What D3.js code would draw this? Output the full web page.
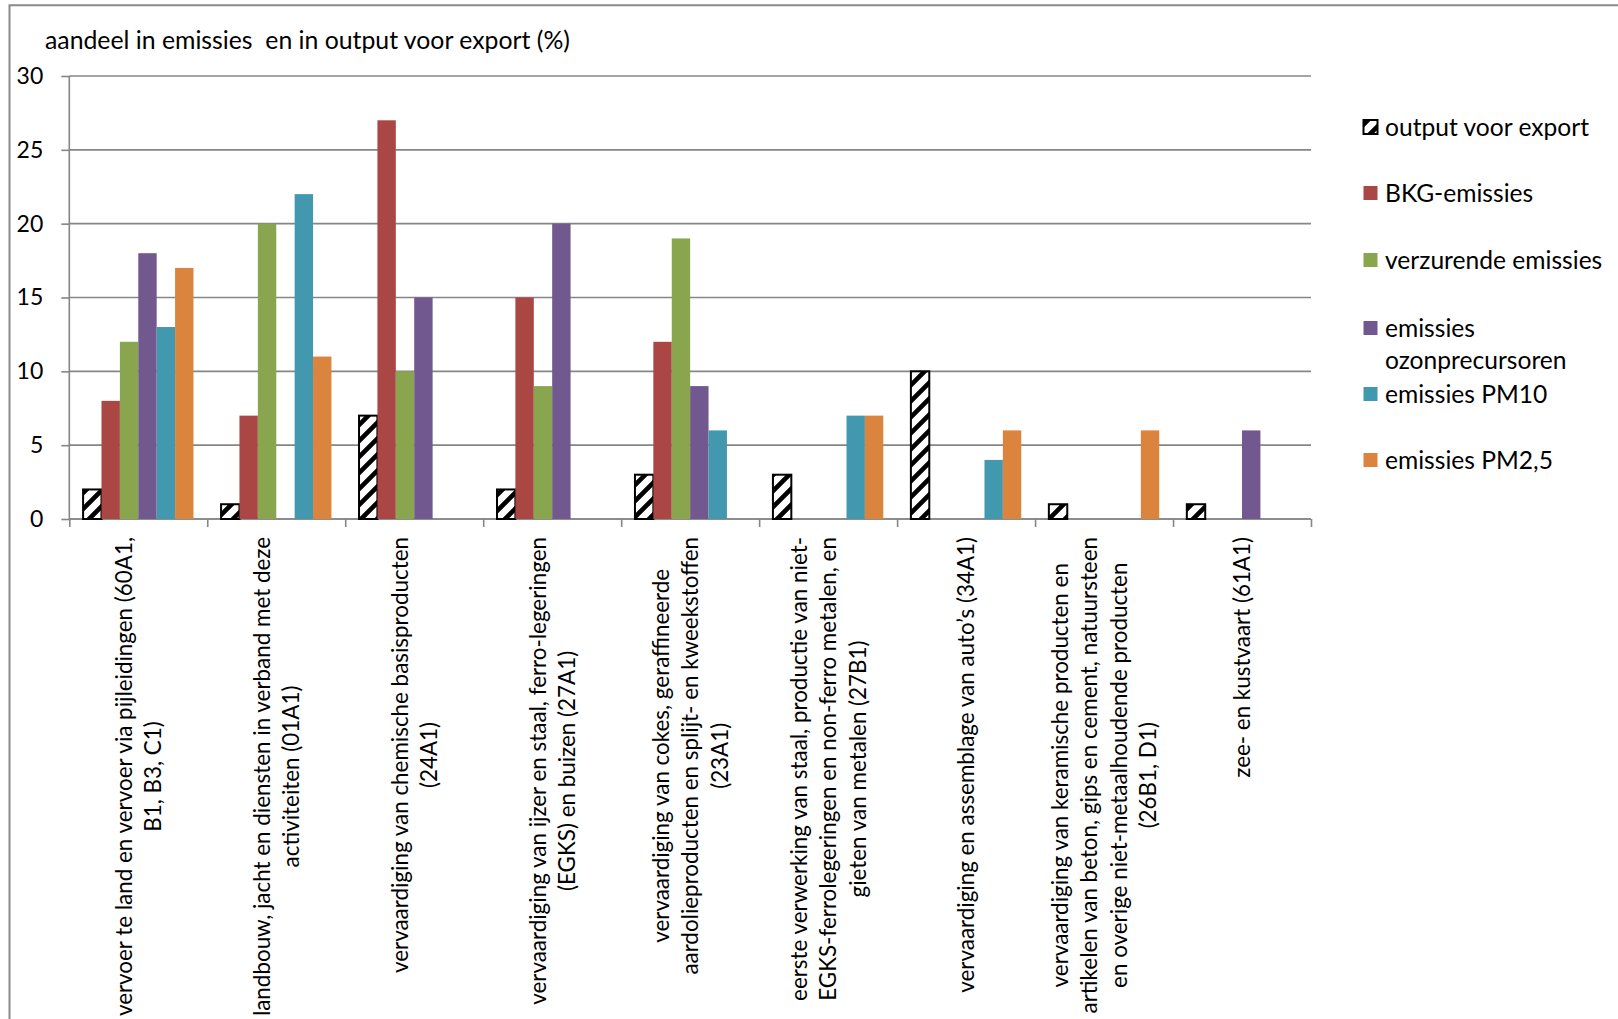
<!DOCTYPE html>
<html>
<head>
<meta charset="utf-8">
<script src="https://cdn.jsdelivr.net/npm/d3@7"></script>
<style>
  html, body { margin: 0; padding: 0; background: #ffffff; overflow: hidden; }
  svg text { font-family: Lato, "Open Sans", "Noto Sans", sans-serif; fill: #000; }
</style>
</head>
<body>
<svg id="chart" width="1618" height="1019"></svg>
<script>
// ---------------- data ----------------
const categoryLabels = [
  ["vervoer te land en vervoer via pijleidingen (60A1,", "B1, B3, C1)"],
  ["landbouw, jacht en diensten in verband met deze", "activiteiten (01A1)"],
  ["vervaardiging van chemische basisproducten", "(24A1)"],
  ["vervaardiging van ijzer en staal, ferro-legeringen", "(EGKS) en buizen (27A1)"],
  ["vervaardiging van cokes, geraffineerde", "aardolieproducten en splijt- en kweekstoffen", "(23A1)"],
  ["eerste verwerking van staal, productie van niet-", "EGKS-ferrolegeringen en non-ferro metalen, en", "gieten van metalen (27B1)"],
  ["vervaardiging en assemblage van auto\u2019s (34A1)"],
  ["vervaardiging van keramische producten en", "artikelen van beton, gips en cement, natuursteen", "en overige niet-metaalhoudende producten", "(26B1, D1)"],
  ["zee- en kustvaart (61A1)"]
];
const seriesNames = ["output voor export", "BKG-emissies", "verzurende emissies",
                     "emissies ozonprecursoren", "emissies PM10", "emissies PM2,5"];
const legendLines = [["output voor export"], ["BKG-emissies"], ["verzurende emissies"],
                     ["emissies", "ozonprecursoren"], ["emissies PM10"], ["emissies PM2,5"]];
const outputExport = [2, 1, 7, 2, 3, 3, 10, 1, 1];
const bkgEmissies  = [8, 7, 27, 15, 12, 0, 0, 0, 0];
const verzurend    = [12, 20, 10, 9, 19, 0, 0, 0, 0];
const ozon         = [18, 0, 15, 20, 9, 0, 0, 0, 6];
const pm10         = [13, 22, 0, 0, 6, 7, 4, 0, 0];
const pm25         = [17, 11, 0, 0, 0, 7, 6, 6, 0];
const yTicks = [0, 5, 10, 15, 20, 25, 30];
const titleText = "aandeel in emissies  en in output voor export (%)";
const colors = ["url(#hatch)", "#AA4643", "#89A54E", "#71588F", "#4198AF", "#DB843D"];

const seriesValues = [outputExport, bkgEmissies, verzurend, ozon, pm10, pm25];

// ---------------- layout ----------------
const svg = d3.select("#chart");
const plotL = 69.3, plotR = 1311, plotT = 76, plotB = 519;
const FS_TICK = 23, FS_TITLE = 24.8, FS_LEGEND = 24.6, FS_CAT = 22.4;

// frame
svg.append("path")
  .attr("d", `M9.5,1019 L9.5,5.3 L1618,5.3`)
  .attr("fill", "none").attr("stroke", "#8a8a8a").attr("stroke-width", 2);

// hatch pattern
const defs = svg.append("defs");
const pat = defs.append("pattern").attr("id", "hatch")
  .attr("patternUnits", "userSpaceOnUse").attr("width", 16).attr("height", 16);
pat.append("rect").attr("width", 16).attr("height", 16).attr("fill", "#fff");
pat.append("path").attr("d", "M-4,4 L4,-4 M0,16 L16,0 M12,20 L20,12")
  .attr("stroke", "#000").attr("stroke-width", 4.6);

const catIdx = d3.range(categoryLabels.length);
const x0 = d3.scaleBand().domain(catIdx).range([plotL, plotR]).padding(0);
const bw = x0.bandwidth();
const gapHalf = bw * 0.75 / 7.5;
const x1 = d3.scaleBand().domain(d3.range(seriesNames.length)).range([gapHalf, bw - gapHalf]).padding(0);
const y = d3.scaleLinear().domain([0, 30]).range([plotB, plotT]);

// gridlines
svg.append("g").selectAll("line").data(yTicks).join("line")
  .attr("x1", plotL).attr("x2", plotR)
  .attr("y1", d => y(d)).attr("y2", d => y(d))
  .attr("stroke", "#868686").attr("stroke-width", 1.6);

// y axis
const yAxis = svg.append("g").attr("transform", `translate(${plotL},0)`)
  .call(d3.axisLeft(y).tickValues(yTicks).tickSize(8).tickPadding(18).tickFormat(d3.format("d")));
yAxis.select(".domain").attr("stroke", "#868686").attr("stroke-width", 1.6).attr("d", `M0,${plotT}V${plotB}`);
yAxis.selectAll(".tick line").attr("stroke", "#868686").attr("stroke-width", 1.6);
yAxis.selectAll(".tick text").attr("font-size", FS_TICK).attr("font-family", "Lato").attr("fill", "#000");

// x axis (ticks at category boundaries)
const xb = d3.scaleLinear().domain([0, categoryLabels.length]).range([plotL, plotR]);
const xAxis = svg.append("g").attr("transform", `translate(0,${plotB})`)
  .call(d3.axisBottom(xb).tickValues(d3.range(categoryLabels.length + 1)).tickSize(8).tickFormat(""));
xAxis.select(".domain").attr("stroke", "#868686").attr("stroke-width", 1.6).attr("d", `M${plotL},0H${plotR}`);
xAxis.selectAll(".tick line").attr("stroke", "#868686").attr("stroke-width", 1.6);

// bars
seriesValues.forEach((vals, s) => {
  svg.append("g").selectAll("rect")
    .data(vals.map((v, i) => ({ v, i })).filter(d => d.v > 0))
    .join("rect")
    .attr("x", d => x0(d.i) + x1(s))
    .attr("width", x1.bandwidth())
    .attr("y", d => y(d.v))
    .attr("height", d => y(0) - y(d.v))
    .attr("fill", colors[s])
    .attr("stroke", s === 0 ? "#000" : "none")
    .attr("stroke-width", s === 0 ? 2 : 0);
});

// title
svg.append("text").attr("x", 45).attr("y", 49).attr("font-size", FS_TITLE)
  .style("white-space", "pre").attr("xml:space", "preserve").text(titleText);

// category labels (rotated)
const lineH = 29.4;
const labelTop = 537;
categoryLabels.forEach((lines, i) => {
  const cx = x0(i) + bw / 2;
  const g = svg.append("g").attr("transform", `translate(${cx},${labelTop}) rotate(-90)`);
  const texts = g.selectAll("text").data(lines).join("text")
    .attr("font-size", FS_CAT)
    .attr("text-anchor", "middle")
    .attr("dy", "0.36em")
    .text(d => d);
  let maxW = 0;
  texts.each(function () { maxW = Math.max(maxW, this.getComputedTextLength()); });
  const n = lines.length;
  texts.attr("x", -maxW / 2).attr("y", (d, k) => (k - (n - 1) / 2) * lineH);
});

// legend
const legendY = [127, 193, 260, 328, 394, 460];
const lg = svg.append("g");
legendLines.forEach((lines, s) => {
  const yy = legendY[s];
  lg.append("rect").attr("x", 1363.5).attr("y", yy - 7).attr("width", 14).attr("height", 14)
    .attr("fill", colors[s])
    .attr("stroke", s === 0 ? "#000" : "none").attr("stroke-width", s === 0 ? 2 : 0);
  const t = lg.append("text").attr("x", 1385).attr("y", yy).attr("font-size", FS_LEGEND);
  lines.forEach((ln, k) => {
    t.append("tspan").attr("x", 1385).attr("y", yy + k * 32).attr("dy", "0.36em").text(ln);
  });
});
</script>
</body>
</html>
